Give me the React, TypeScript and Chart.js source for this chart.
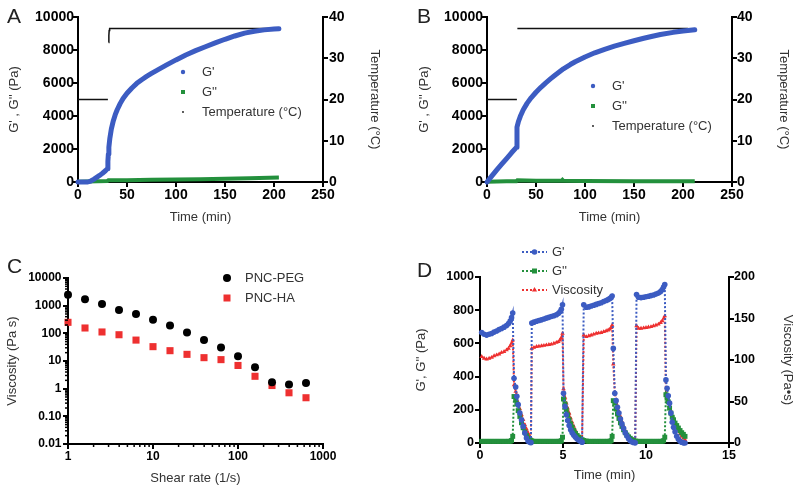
import React, { useEffect, useRef } from 'react';
import { Chart, registerables } from 'chart.js';

Chart.register(...registerables);

const FONT = '"Liberation Sans", Arial, Helvetica, sans-serif';
const BLUE = '#3C5CC2';
const GREEN = '#23903C';
const RED = '#EE3030';
const TITLE_COLOR = '#333333';

// ---------------- Panel A ----------------
const timeAGp = [0, 5, 10, 13, 16, 19, 22, 25, 28, 30, 30.5, 31, 31.5, 32.5, 34, 36, 38, 40, 43, 46, 50, 55, 60, 65, 70, 75, 80, 90, 100, 110, 120, 130, 140, 150, 160, 170, 180, 190, 200, 205];
const valAGp = [0, 0, 0, 60, 160, 280, 400, 530, 680, 800, 1250, 1700, 2100, 2650, 3200, 3700, 4080, 4380, 4750, 5060, 5380, 5700, 5980, 6200, 6400, 6580, 6750, 7080, 7400, 7700, 7960, 8200, 8430, 8650, 8850, 9020, 9140, 9220, 9270, 9290];
const timeAGpp = [0, 10, 20, 30, 31, 50, 75, 100, 125, 150, 175, 205];
const valAGpp = [20, 30, 40, 60, 100, 110, 130, 150, 170, 200, 230, 270];
const timeATemp = [0, 30.5, 30.8, 31.3, 31.5, 31.8, 32.3, 205];
const valATemp = [20, 20, null, 33.8, 35.5, 36.7, 37.2, 37.2];

// ---------------- Panel B ----------------
const timeBGp = [0, 5, 10, 15, 20, 25, 30, 30.6, 32, 34, 37, 41, 45, 50, 55, 60, 65, 70, 78, 85, 90, 100, 110, 120, 130, 140, 150, 160, 170, 177, 190, 200, 212];
const valBGp = [0, 370, 730, 1080, 1420, 1770, 2100, 3330, 3650, 3980, 4380, 4780, 5100, 5440, 5740, 6010, 6260, 6500, 6860, 7120, 7290, 7580, 7830, 8040, 8230, 8400, 8560, 8710, 8850, 8940, 9070, 9150, 9230];
const timeBGpp = [0, 10, 20, 30, 31, 50, 76, 77, 78, 100, 150, 212];
const valBGpp = [20, 30, 40, 50, 110, 70, 70, 130, 70, 60, 50, 50];
const timeBTemp = [0, 30.5, 30.8, 31, 205];
const valBTemp = [20, 20, null, 37.2, 37.2];

// ---------------- Panel C ----------------
const shearRate = [1, 1.585, 2.512, 3.981, 6.31, 10, 15.85, 25.12, 39.81, 63.1, 100, 158.5, 251.2, 398.1, 631];
const viscPEG = [2500, 1700, 1150, 700, 500, 310, 190, 108, 57, 31, 15, 5.9, 1.7, 1.4, 1.6];
const viscHA = [250, 156, 112, 89, 57, 33, 23.6, 17.4, 13.2, 11.2, 6.9, 2.8, 1.3, 0.71, 0.47];
const viscTickValues = [0.01, 0.1, 1, 10, 100, 1000, 10000];
const viscTickLabels = ['0.01', '0.10', '1', '10', '100', '1000', '10000'];
const shearTickValues = [1, 10, 100, 1000];
const shearTickLabels = ['1', '10', '100', '1000'];

// ---------------- Panel D ----------------
const timeD = [
  0.1, 0.25, 0.4, 0.55, 0.7, 0.85, 1.0, 1.15, 1.3, 1.45, 1.6, 1.72, 1.82, 1.9, 1.97,
  2.05, 2.15, 2.22, 2.3, 2.4, 2.5, 2.6, 2.7, 2.8, 2.9, 3.0, 3.07,
  3.12, 3.25, 3.4, 3.55, 3.7, 3.85, 4.0, 4.15, 4.3, 4.45, 4.6, 4.72, 4.82, 4.9, 4.97,
  5.03, 5.12, 5.2, 5.28, 5.37, 5.46, 5.55, 5.65, 5.75, 5.85, 5.95, 6.05, 6.15,
  6.25, 6.4, 6.55, 6.7, 6.85, 7.0, 7.15, 7.3, 7.45, 7.6, 7.72, 7.82, 7.9, 7.96,
  8.03, 8.12, 8.2, 8.28, 8.37, 8.46, 8.55, 8.65, 8.75, 8.85, 8.95, 9.05, 9.15, 9.25, 9.35,
  9.43, 9.55, 9.7, 9.85, 10.0, 10.15, 10.3, 10.45, 10.6, 10.75, 10.88, 10.98, 11.06, 11.13,
  11.2, 11.27, 11.34, 11.42, 11.5, 11.58, 11.66, 11.75, 11.85, 11.95, 12.05, 12.15, 12.25, 12.35,
];
const gPrimeD = [
  665, 655, 650, 655, 660, 668, 675, 683, 690, 698, 708, 720, 735, 755, 783,
  390, 337, 281, 231, 181, 140, 100, 60, 30, 10, 4, 2,
  723, 728, 733, 738, 742, 747, 752, 757, 762, 767, 773, 780, 790, 805, 833,
  300, 220, 170, 135, 105, 80, 62, 46, 34, 24, 16, 10, 5,
  833, 818, 820, 825, 830, 835, 840, 845, 852, 858, 864, 870, 876, 885,
  570, 300, 255, 215, 180, 145, 115, 88, 62, 42, 26, 14, 7, 3, 1,
  895, 878, 876, 878, 881, 884, 888, 892, 897, 903, 912, 925, 940, 955,
  380, 330, 285, 240, 180, 125, 95, 68, 40, 22, 10, 5, 1, 0,
];
const gDoublePrimeD = [
  10, 10, 10, 10, 10, 10, 10, 10, 10, 10, 10, 10, 10, 15, 40,
  280, 262, 235, 195, 160, 122, 92, 66, 45, 30, 20, 14,
  12, 10, 10, 10, 10, 10, 10, 10, 10, 10, 10, 10, 10, 14, 35,
  265, 235, 200, 170, 140, 115, 95, 75, 58, 45, 35, 27, 20,
  15, 12, 10, 10, 10, 10, 10, 10, 10, 10, 10, 10, 14, 40,
  255, 240, 205, 175, 148, 122, 100, 80, 62, 48, 37, 28, 20, 15, 12,
  10, 10, 10, 10, 10, 10, 10, 10, 10, 10, 10, 10, 14, 35,
  291, 270, 248, 210, 180, 155, 140, 120, 105, 90, 75, 62, 52, 40,
];
const viscD = [
  104, 102, 101, 102, 103, 105, 106, 107, 109, 110, 112, 114, 117, 120, 124,
  70, 62, 57, 48, 41, 34, 28, 22, 17, 12, 8, 6,
  114, 115, 116, 116.5, 117, 117.5, 118, 118.5, 119, 120, 121, 122, 124, 127, 132,
  65, 55, 48, 42, 36, 30, 25, 20, 15, 11, 8, 6, 4,
  130, 128, 129, 130, 131, 132, 132.5, 133, 134, 135, 136, 137, 139, 142,
  95, 60, 52, 45, 38, 32, 26, 20, 15, 11, 8, 6, 4, 3, 2,
  141, 138, 138, 138.5, 139, 139.5, 140, 141, 142, 143, 145, 147, 150, 153,
  60, 55, 50, 45, 39, 33, 29, 24, 20, 15, 11, 8, 6, 4,
];

// ---------------- helpers ----------------
const pts = (xs: number[], ys: (number | null)[]) => xs.map((x, i) => ({ x, y: ys[i] }));

function minorLog(fromExp: number, toExp: number): number[] {
  const out: number[] = [];
  for (let e = fromExp; e < toExp; e++) {
    for (let m = 2; m <= 9; m++) out.push(Number((m * Math.pow(10, e)).toPrecision(6)));
  }
  return out;
}

type AxisOpts = {
  type?: 'linear' | 'logarithmic';
  position: 'left' | 'right' | 'bottom';
  min: number;
  max: number;
  stepSize?: number;
  title: string;
  titlePad: number;
  size: number;
  tickSize: number;
  tickPad: number;
  tickValues?: number[];
  tickLabels?: string[];
};

function axis(o: AxisOpts): any {
  const horizontal = o.position === 'bottom';
  return {
    type: o.type ?? 'linear',
    position: o.position,
    min: o.min,
    max: o.max,
    offset: false,
    ticks: {
      stepSize: o.stepSize,
      autoSkip: false,
      maxRotation: 0,
      minRotation: 0,
      padding: o.tickPad,
      color: '#000',
      font: { family: FONT, size: o.tickSize, weight: 'bold' },
      callback: o.tickLabels ? (_v: any, i: number) => o.tickLabels![i] : (v: any) => String(v),
    },
    afterBuildTicks: o.tickValues
      ? (s: any) => {
          s.ticks = o.tickValues!.map((v) => ({ value: v }));
        }
      : undefined,
    afterFit: (s: any) => {
      if (horizontal) s.height = o.size;
      else s.width = o.size;
    },
    grid: {
      display: true,
      drawOnChartArea: false,
      drawTicks: true,
      tickLength: 5,
      tickWidth: 2,
      tickColor: '#000',
      color: '#000',
      lineWidth: 2,
    },
    border: { display: true, color: '#000', width: 2 },
    title: {
      display: true,
      text: o.title,
      color: TITLE_COLOR,
      font: { family: FONT, size: 13 },
      padding: horizontal ? { top: 0, bottom: o.titlePad } : { top: o.titlePad, bottom: 0 },
    },
  };
}

type Item = { text: string; marker: 'circle' | 'rect' | 'triangle' | 'dot'; color: string; size: number; line?: boolean };
type OverlayCfg = {
  letter: { text: string; x: number; y: number };
  legend?: { x: number; textX: number; y: number; rowH: number; lineX0?: number; lineX1?: number; items: Item[] };
  minor?: { scaleId: string; values: number[]; len: number }[];
};

function drawMarker(ctx: CanvasRenderingContext2D, kind: string, x: number, y: number, size: number, color: string) {
  ctx.fillStyle = color;
  ctx.beginPath();
  if (kind === 'circle' || kind === 'dot') {
    ctx.arc(x, y, size, 0, Math.PI * 2);
    ctx.fill();
  } else if (kind === 'rect') {
    ctx.fillRect(x - size / 2, y - size / 2, size, size);
  } else if (kind === 'triangle') {
    ctx.moveTo(x, y - size);
    ctx.lineTo(x + size * 0.87, y + size * 0.5);
    ctx.lineTo(x - size * 0.87, y + size * 0.5);
    ctx.closePath();
    ctx.fill();
  }
}

function overlay(cfg: OverlayCfg): any {
  return {
    id: 'overlay',
    afterDraw(chart: any) {
      const ctx: CanvasRenderingContext2D = chart.ctx;
      ctx.save();
      (cfg.minor || []).forEach((m) => {
        const s = chart.scales[m.scaleId];
        ctx.strokeStyle = '#000';
        ctx.lineWidth = 1.5;
        m.values.forEach((v) => {
          const p = s.getPixelForValue(v);
          ctx.beginPath();
          if (s.isHorizontal()) {
            ctx.moveTo(p, s.top);
            ctx.lineTo(p, s.top + m.len);
          } else {
            ctx.moveTo(s.right, p);
            ctx.lineTo(s.right - m.len, p);
          }
          ctx.stroke();
        });
      });
      ctx.font = `21px ${FONT}`;
      ctx.fillStyle = '#222';
      ctx.textAlign = 'left';
      ctx.textBaseline = 'alphabetic';
      ctx.fillText(cfg.letter.text, cfg.letter.x, cfg.letter.y);
      const L = cfg.legend;
      if (L) {
        L.items.forEach((it, i) => {
          const y = L.y + i * L.rowH;
          if (it.line && L.lineX0 !== undefined && L.lineX1 !== undefined) {
            ctx.save();
            ctx.strokeStyle = it.color;
            ctx.lineWidth = 2;
            ctx.setLineDash([2, 2]);
            ctx.beginPath();
            ctx.moveTo(L.lineX0, y);
            ctx.lineTo(L.lineX1, y);
            ctx.stroke();
            ctx.restore();
          }
          drawMarker(ctx, it.marker, L.x, y, it.size, it.color);
          ctx.font = `13px ${FONT}`;
          ctx.fillStyle = TITLE_COLOR;
          ctx.textAlign = 'left';
          ctx.textBaseline = 'middle';
          ctx.fillText(it.text, L.textX, y);
        });
      }
      ctx.restore();
    },
  };
}

const baseOptions = (padding: any) => ({
  responsive: false,
  animation: false,
  devicePixelRatio: 1,
  events: [],
  layout: { padding },
  plugins: { legend: { display: false }, tooltip: { enabled: false } },
});

// ---------------- chart configs ----------------
function configA(): any {
  return {
    type: 'scatter',
    data: {
      datasets: [
        { label: "G'", data: pts(timeAGp, valAGp), showLine: true, borderColor: BLUE, backgroundColor: BLUE, borderWidth: 5, pointRadius: 0, borderCapStyle: 'round', borderJoinStyle: 'round', clip: false, yAxisID: 'y' },
        { label: "G''", data: pts(timeAGpp, valAGpp), showLine: true, borderColor: GREEN, backgroundColor: GREEN, borderWidth: 4, pointRadius: 0, clip: false, yAxisID: 'y' },
        { label: 'Temperature (°C)', data: pts(timeATemp, valATemp), showLine: true, spanGaps: false, borderColor: '#111', backgroundColor: '#111', borderWidth: 1.5, pointRadius: 0, clip: false, yAxisID: 'y2' },
      ],
    },
    options: {
      ...baseOptions({ top: 17, left: 0, right: 0, bottom: 0 }),
      scales: {
        x: axis({ position: 'bottom', min: 0, max: 250, stepSize: 50, title: 'Time (min)', titlePad: 20, size: 63, tickSize: 14, tickPad: 0 }),
        y: axis({ position: 'left', min: 0, max: 10000, stepSize: 2000, title: "G' , G'' (Pa)", titlePad: 7, size: 78, tickSize: 14, tickPad: -1 }),
        y2: axis({ position: 'right', min: 0, max: 40, stepSize: 10, title: 'Temperature (°C)', titlePad: 18, size: 77, tickSize: 14, tickPad: 1 }),
      },
    },
    plugins: [
      overlay({
        letter: { text: 'A', x: 7, y: 23 },
        legend: {
          x: 183, textX: 202, y: 72, rowH: 20,
          items: [
            { text: "G'", marker: 'circle', color: BLUE, size: 2.2 },
            { text: "G''", marker: 'rect', color: GREEN, size: 4 },
            { text: 'Temperature (°C)', marker: 'dot', color: '#111', size: 0.9 },
          ],
        },
      }),
    ],
  };
}

function configB(): any {
  return {
    type: 'scatter',
    data: {
      datasets: [
        { label: "G'", data: pts(timeBGp, valBGp), showLine: true, borderColor: BLUE, backgroundColor: BLUE, borderWidth: 5, pointRadius: 0, borderCapStyle: 'round', borderJoinStyle: 'round', clip: false, yAxisID: 'y' },
        { label: "G''", data: pts(timeBGpp, valBGpp), showLine: true, borderColor: GREEN, backgroundColor: GREEN, borderWidth: 4, pointRadius: 0, clip: false, yAxisID: 'y' },
        { label: 'Temperature (°C)', data: pts(timeBTemp, valBTemp), showLine: true, spanGaps: false, borderColor: '#111', backgroundColor: '#111', borderWidth: 1.5, pointRadius: 0, clip: false, yAxisID: 'y2' },
      ],
    },
    options: {
      ...baseOptions({ top: 17, left: 0, right: 0, bottom: 0 }),
      scales: {
        x: axis({ position: 'bottom', min: 0, max: 250, stepSize: 50, title: 'Time (min)', titlePad: 20, size: 63, tickSize: 14, tickPad: 0 }),
        y: axis({ position: 'left', min: 0, max: 10000, stepSize: 2000, title: "G' , G'' (Pa)", titlePad: 17, size: 87, tickSize: 14, tickPad: -1 }),
        y2: axis({ position: 'right', min: 0, max: 40, stepSize: 10, title: 'Temperature (°C)', titlePad: 9, size: 68, tickSize: 14, tickPad: 0 }),
      },
    },
    plugins: [
      overlay({
        letter: { text: 'B', x: 17, y: 23 },
        legend: {
          x: 193, textX: 212, y: 86, rowH: 20,
          items: [
            { text: "G'", marker: 'circle', color: BLUE, size: 2.2 },
            { text: "G''", marker: 'rect', color: GREEN, size: 4 },
            { text: 'Temperature (°C)', marker: 'dot', color: '#111', size: 0.9 },
          ],
        },
      }),
    ],
  };
}

function configC(): any {
  return {
    type: 'scatter',
    data: {
      datasets: [
        { label: 'PNC-PEG', data: pts(shearRate, viscPEG), pointStyle: 'circle', pointRadius: 4, backgroundColor: '#000', borderColor: '#000', borderWidth: 0, clip: false },
        { label: 'PNC-HA', data: pts(shearRate, viscHA), pointStyle: 'rect', pointRadius: 5, backgroundColor: RED, borderColor: RED, borderWidth: 0, clip: false },
      ],
    },
    options: {
      ...baseOptions({ top: 33, left: 0, right: 77, bottom: 0 }),
      scales: {
        x: axis({ type: 'logarithmic', position: 'bottom', min: 1, max: 1000, title: 'Shear rate (1/s)', titlePad: 3, size: 45, tickSize: 12, tickPad: 0, tickValues: shearTickValues, tickLabels: shearTickLabels }),
        y: axis({ type: 'logarithmic', position: 'left', min: 0.01, max: 10000, title: 'Viscosity (Pa s)', titlePad: 5, size: 68, tickSize: 12, tickPad: 1.5, tickValues: viscTickValues, tickLabels: viscTickLabels }),
      },
    },
    plugins: [
      overlay({
        letter: { text: 'C', x: 7, y: 28 },
        legend: {
          x: 227, textX: 245, y: 33, rowH: 20,
          items: [
            { text: 'PNC-PEG', marker: 'circle', color: '#000', size: 4 },
            { text: 'PNC-HA', marker: 'rect', color: RED, size: 7 },
          ],
        },
        minor: [
          { scaleId: 'x', values: minorLog(0, 3), len: 3 },
          { scaleId: 'y', values: minorLog(-2, 4), len: 3 },
        ],
      }),
    ],
  };
}

function configD(): any {
  const common = { showLine: true, borderWidth: 2, borderDash: [2, 2], clip: false };
  return {
    type: 'scatter',
    data: {
      datasets: [
        { ...common, label: "G'", data: pts(timeD, gPrimeD), borderColor: BLUE, backgroundColor: BLUE, pointStyle: 'circle', pointRadius: 2.8, pointBorderWidth: 0, yAxisID: 'y' },
        { ...common, label: "G''", data: pts(timeD, gDoublePrimeD), borderColor: GREEN, backgroundColor: GREEN, pointStyle: 'rect', pointRadius: 3.5, pointBorderWidth: 0, yAxisID: 'y' },
        { ...common, label: 'Viscosity', data: pts(timeD, viscD), borderColor: RED, backgroundColor: RED, pointStyle: 'triangle', pointRadius: 2.6, pointBorderWidth: 0, yAxisID: 'y2' },
      ],
    },
    options: {
      ...baseOptions({ top: 32, left: 0, right: 0, bottom: 0 }),
      scales: {
        x: axis({ position: 'bottom', min: 0, max: 15, stepSize: 5, title: 'Time (min)', titlePad: 6, size: 46, tickSize: 12.5, tickPad: 0 }),
        y: axis({ position: 'left', min: 0, max: 1000, stepSize: 200, title: "G', G'' (Pa)", titlePad: 14, size: 80, tickSize: 12.5, tickPad: 1 }),
        y2: axis({ position: 'right', min: 0, max: 200, stepSize: 50, title: 'Viscosity (Pa•s)', titlePad: 5, size: 71, tickSize: 12.5, tickPad: 0 }),
      },
    },
    plugins: [
      overlay({
        letter: { text: 'D', x: 17, y: 32 },
        legend: {
          x: 134.5, textX: 152, y: 7, rowH: 19, lineX0: 122, lineX1: 147,
          items: [
            { text: "G'", marker: 'circle', color: BLUE, size: 2.8, line: true },
            { text: "G''", marker: 'rect', color: GREEN, size: 5, line: true },
            { text: 'Viscosity', marker: 'triangle', color: RED, size: 3, line: true },
          ],
        },
      }),
    ],
  };
}

function ChartCanvas({ make, left, top, w, h }: { make: () => any; left: number; top: number; w: number; h: number }) {
  const ref = useRef<HTMLCanvasElement>(null);
  useEffect(() => {
    const chart = new Chart(ref.current as HTMLCanvasElement, make());
    return () => chart.destroy();
  }, []);
  return (
    <canvas
      ref={ref}
      width={w}
      height={h}
      style={{ position: 'absolute', left, top, width: w, height: h, display: 'block' }}
    />
  );
}

export default function App() {
  return (
    <div style={{ position: 'absolute', left: 0, top: 0, width: 800, height: 489, background: '#fff', overflow: 'hidden' }}>
      <ChartCanvas make={configA} left={0} top={0} w={400} h={245} />
      <ChartCanvas make={configB} left={400} top={0} w={400} h={245} />
      <ChartCanvas make={configC} left={0} top={245} w={400} h={244} />
      <ChartCanvas make={configD} left={400} top={245} w={400} h={244} />
    </div>
  );
}
